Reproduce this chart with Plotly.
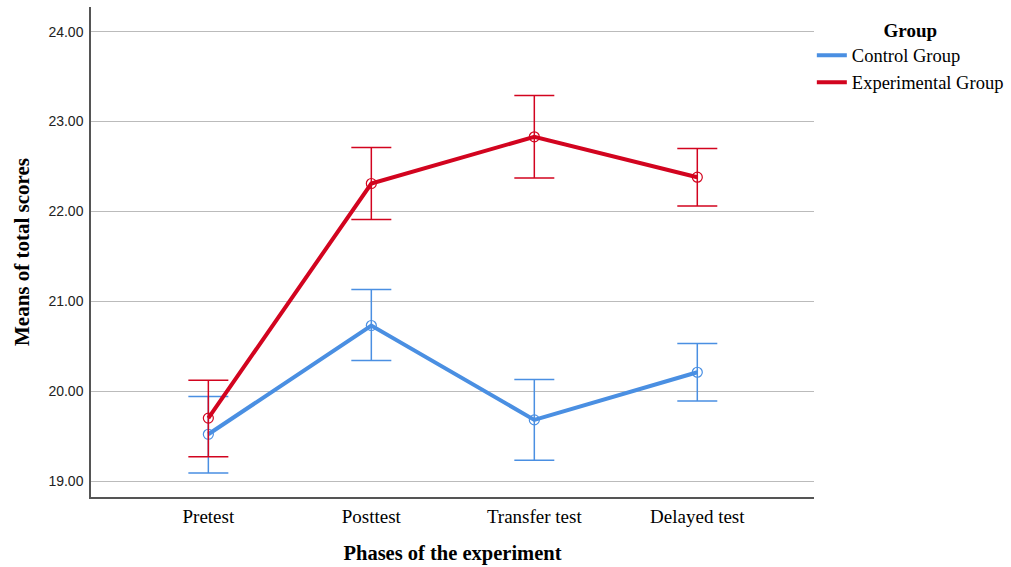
import plotly.graph_objects as go

phases = ["Pretest", "Posttest", "Transfer test", "Delayed test"]
groups = ["Control Group", "Experimental Group"]

control_mean = [19.52, 20.73, 19.68, 20.21]
control_upper = [19.94, 21.13, 20.13, 20.53]
control_lower = [19.09, 20.34, 19.23, 19.89]

exp_mean = [19.70, 22.31, 22.83, 22.38]
exp_upper = [20.12, 22.71, 23.29, 22.70]
exp_lower = [19.27, 21.91, 22.37, 22.06]

y_ticks = [19, 20, 21, 22, 23, 24]

colors = {"Control Group": "#4A8FE2", "Experimental Group": "#D2041F"}

fig = go.Figure()

series = [
    ("Control Group", control_mean, control_upper, control_lower),
    ("Experimental Group", exp_mean, exp_upper, exp_lower),
]

for name, mean, up, lo in series:
    c = colors[name]
    fig.add_trace(go.Scatter(
        x=phases, y=mean, mode="lines", name=name,
        line=dict(color=c, width=4), showlegend=True,
    ))
    fig.add_trace(go.Scatter(
        x=phases, y=mean, mode="markers", name=name, showlegend=False,
        marker=dict(symbol="circle-open", size=10, color=c, line=dict(width=1.2, color=c)),
        error_y=dict(
            type="data", symmetric=False,
            array=[u - m for u, m in zip(up, mean)],
            arrayminus=[m - l for m, l in zip(mean, lo)],
            color=c, thickness=1.5, width=20,
        ),
    ))

fig.update_layout(
    width=1011, height=567,
    margin=dict(l=91, r=197, t=7, b=70, autoexpand=False),
    plot_bgcolor="white", paper_bgcolor="white",
    legend=dict(
        xref="container", yref="container",
        x=0.803, y=0.979, xanchor="left", yanchor="top",
        font=dict(family="Liberation Serif", size=18.5, color="black"),
        title=dict(text="<b>Group</b>", side="top center",
                   font=dict(family="Liberation Serif", size=19, color="black")),
        bgcolor="rgba(0,0,0,0)", itemwidth=30, tracegroupgap=0,
    ),
    xaxis=dict(
        type="category", range=[-0.72, 3.716], automargin=False,
        showgrid=False, showline=True, linecolor="#555", linewidth=1.5,
        ticks="", ticklabelstandoff=1,
        tickfont=dict(family="Liberation Serif", size=19, color="black"),
        title=dict(text="<b>Phases of the experiment</b>",
                   font=dict(family="Liberation Serif", size=20.5, color="black"), standoff=20),
    ),
    yaxis=dict(
        range=[18.822, 24.274], tickvals=y_ticks, tickformat=".2f", automargin=False,
        showgrid=True, gridcolor="#BBBBBB", gridwidth=1,
        showline=True, linecolor="#555", linewidth=1.5, zeroline=False,
        ticks="", ticklabelstandoff=3,
        tickfont=dict(family="Liberation Sans", size=14, color="#222"),
        title=dict(text="<b>Means of total scores</b>",
                   font=dict(family="Liberation Serif", size=21, color="black"), standoff=13),
    ),
)

fig.write_html("out.html", config={"displayModeBar": False},
               post_script="document.body.style.margin='0';")
